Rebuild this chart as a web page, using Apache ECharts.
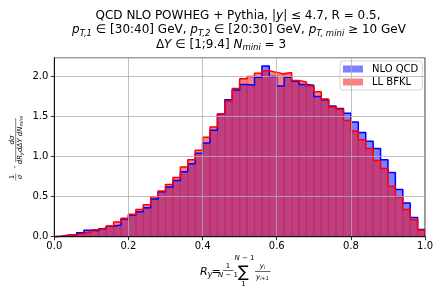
<!DOCTYPE html>
<html>
<head>
<meta charset="utf-8">
<script src="https://cdn.jsdelivr.net/npm/echarts@6/dist/echarts.min.js"></script>
<style>
html,body{margin:0;padding:0;background:#fff;}
#chart{width:436px;height:291px;}
</style>
</head>
<body>
<div id="chart"></div>
<script>
// Bin edges (R_y)
var binEdges = [0.00,0.02,0.04,0.06,0.08,0.10,0.12,0.14,0.16,0.18,
  0.20,0.22,0.24,0.26,0.28,0.30,0.32,0.34,0.36,0.38,
  0.40,0.42,0.44,0.46,0.48,0.50,0.52,0.54,0.56,0.58,
  0.60,0.62,0.64,0.66,0.68,0.70,0.72,0.74,0.76,0.78,
  0.80,0.82,0.84,0.86,0.88,0.90,0.92,0.94,0.96,0.98,1.00];
// NLO QCD (blue)
var nloQCD = [0.005,0.02,0.025,0.05,0.08,0.075,0.10,0.13,0.145,0.22,
  0.27,0.31,0.36,0.47,0.56,0.62,0.70,0.81,0.91,1.04,
  1.17,1.33,1.53,1.71,1.83,1.90,1.89,1.99,2.13,2.00,
  1.88,1.99,1.94,1.90,1.89,1.75,1.71,1.63,1.60,1.54,
  1.43,1.30,1.19,1.10,0.96,0.80,0.59,0.42,0.24,0.09];
// LL BFKL (red)
var llBFKL = [0.005,0.015,0.025,0.04,0.062,0.087,0.108,0.133,0.185,0.23,
  0.28,0.34,0.40,0.50,0.57,0.65,0.74,0.87,0.96,1.08,
  1.24,1.37,1.53,1.69,1.85,1.97,2.00,2.04,2.07,2.05,
  2.03,2.05,1.95,1.93,1.88,1.81,1.72,1.62,1.59,1.45,
  1.32,1.21,1.10,0.95,0.85,0.63,0.50,0.34,0.21,0.08];
var xTicks = [0.0,0.2,0.4,0.6,0.8,1.0];
var yTicks = [0.0,0.5,1.0,1.5,2.0];
var seriesNames = ['NLO QCD','LL BFKL'];

var FONT = 'DejaVu Sans';

function barData(vals){
  var d = [];
  for (var i = 0; i < vals.length; i++) d.push([binEdges[i], binEdges[i+1], vals[i]]);
  return d;
}
function stepData(vals){
  var d = [[binEdges[0], 0]];
  for (var i = 0; i < vals.length; i++) d.push([binEdges[i], vals[i]]);
  d.push([binEdges[vals.length], vals[vals.length-1]]);
  d.push([binEdges[vals.length], 0]);
  return d;
}
function renderBar(fill){
  return function(params, api){
    var p0 = api.coord([api.value(0), api.value(2)]);
    var p1 = api.coord([api.value(1), 0]);
    return {type:'rect', shape:{x:p0[0], y:p0[1], width:p1[0]-p0[0], height:p1[1]-p0[1]},
      style:{fill:fill, stroke:fill, lineWidth:0.3}};
  };
}

var chart = echarts.init(document.getElementById('chart'), null, {renderer:'canvas'});

var subStyle = {fontFamily:FONT, fontSize:8.5, fontStyle:'italic', verticalAlign:'bottom', lineHeight:16, padding:[4,0,0,0]};
var titleRich = {
  n:{fontFamily:FONT, fontSize:12, lineHeight:16, fill:'#000', color:'#000'},
  it:{fontFamily:FONT, fontSize:12, fontStyle:'italic', lineHeight:16, color:'#000'},
  sub:{fontFamily:FONT, fontSize:8.5, fontStyle:'italic', lineHeight:16, verticalAlign:'bottom', padding:[5,0,0,0], color:'#000'},
  subn:{fontFamily:FONT, fontSize:8.5, lineHeight:16, verticalAlign:'bottom', padding:[5,0,0,0], color:'#000'}
};

function txt(x, y, text, size, opts){
  opts = opts || {};
  return {type:'text', x:x, y:y, silent:true,
    style:{text:text, fill:'#000', font:(opts.italic?'italic ':'') + size + 'px "' + FONT + '"',
      align:opts.align||'center', verticalAlign:opts.va||'middle', rich:opts.rich}};
}
function hline(x1, x2, y, w){
  return {type:'line', silent:true, shape:{x1:x1, y1:y, x2:x2, y2:y}, style:{stroke:'#000', lineWidth:w||0.7}};
}

var mathRich = {
  n:{fontFamily:FONT, fontSize:7, color:'#000'},
  it:{fontFamily:FONT, fontSize:7, fontStyle:'italic', color:'#000'},
  s:{fontFamily:FONT, fontSize:5, fontStyle:'italic', color:'#000', verticalAlign:'bottom', padding:[3,0,0,0]}
};
var xRich = {
  it:{fontFamily:FONT, fontSize:11, fontStyle:'italic', color:'#000'},
  s:{fontFamily:FONT, fontSize:8, fontStyle:'italic', color:'#000', verticalAlign:'bottom', padding:[5,0,0,0]}
};

var option = {
  animation:false,
  backgroundColor:'#fff',
  textStyle:{fontFamily:FONT},
  grid:{left:54.3, right:8.3, top:57.7, bottom:54.3, show:true, borderColor:'#000', borderWidth:0.9, backgroundColor:'transparent'},
  xAxis:{type:'value', min:xTicks[0], max:xTicks[xTicks.length-1], interval:0.2, z:5,
    axisLine:{show:true, onZero:false, lineStyle:{color:'#000', width:0.9}},
    axisTick:{show:true, length:3.5, lineStyle:{color:'#000', width:0.8}},
    axisLabel:{color:'#000', fontSize:10, fontFamily:FONT, margin:5, formatter:function(v){return v.toFixed(1);}},
    splitLine:{show:true, lineStyle:{color:'#b0b0b0', width:0.8}}},
  yAxis:{type:'value', min:yTicks[0], max:2.234, interval:0.5, z:5,
    axisLine:{show:true, lineStyle:{color:'#000', width:0.9}},
    axisTick:{show:true, length:3.5, lineStyle:{color:'#000', width:0.8}},
    axisLabel:{color:'#000', fontSize:10, fontFamily:FONT, margin:6, showMaxLabel:false, formatter:function(v){return v.toFixed(1);}},
    splitLine:{show:true, lineStyle:{color:'#b0b0b0', width:0.8}}},
  legend:{
    orient:'vertical', left:340, top:61, padding:[3,4,3,3], itemGap:3,
    itemWidth:20, itemHeight:7, backgroundColor:'rgba(255,255,255,0.8)',
    borderColor:'#cccccc', borderWidth:0.8, borderRadius:3,
    textStyle:{fontFamily:FONT, fontSize:10, color:'#000', padding:[0,0,0,4]},
    data:[{name:seriesNames[0], icon:'rect', itemStyle:{color:'rgba(0,0,255,0.5)'}},
          {name:seriesNames[1], icon:'rect', itemStyle:{color:'rgba(255,0,0,0.5)'}}]
  },
  series:[
    {name:seriesNames[0], type:'custom', z:2, data:barData(nloQCD), encode:{x:[0,1], y:2},
      itemStyle:{color:'rgba(0,0,255,0.5)'}, renderItem:renderBar('rgba(0,0,255,0.5)')},
    {name:seriesNames[1], type:'custom', z:2, data:barData(llBFKL), encode:{x:[0,1], y:2},
      itemStyle:{color:'rgba(255,0,0,0.5)'}, renderItem:renderBar('rgba(255,0,0,0.5)')},
    {name:'nloStep', type:'line', z:3, step:'end', showSymbol:false, data:stepData(nloQCD),
      lineStyle:{color:'#0000ff', width:1.5}, itemStyle:{color:'#0000ff'}},
    {name:'llStep', type:'line', z:3, step:'end', showSymbol:false, data:stepData(llBFKL),
      lineStyle:{color:'#ff0000', width:1.5}, itemStyle:{color:'#ff0000'}}
  ],
  graphic:[
    // Title
    {type:'text', x:238, y:15.5, silent:true, style:{text:'QCD NLO POWHEG + Pythia, |{it|y}| ≤ 4.7, R = 0.5,', rich:titleRich, font:'12px "DejaVu Sans"', fill:'#000', align:'center', verticalAlign:'middle'}},
    {type:'text', x:239, y:30, silent:true, style:{text:'{it|p}{sub|T,1} ∈ [30:40] GeV, {it|p}{sub|T,2} ∈ [20:30] GeV, {it|p}{sub|T, mini} ≥ 10 GeV', rich:titleRich, font:'12px "DejaVu Sans"', fill:'#000', align:'center', verticalAlign:'middle'}},
    {type:'text', x:221, y:44.5, silent:true, style:{text:'Δ{it|Y} ∈ [1;9.4] {it|N}{sub|mini} = 3', rich:titleRich, font:'12px "DejaVu Sans"', fill:'#000', align:'center', verticalAlign:'middle'}},
    // x label
    txt(200, 272, '{it|R}{s|y}', 11, {align:'left', rich:xRich}),
    txt(216, 272, '=', 11),
    txt(228, 266.5, '1', 7),
    hline(223, 233.5, 270.5, 0.6),
    txt(228, 275.5, '{it|N} − 1', 7, {rich:mathRich}),
    txt(243.5, 272.5, '∑', 16),
    txt(244.5, 258.5, '{it|N} − 1', 7, {rich:mathRich}),
    txt(243.5, 284.5, '1', 7),
    txt(262.5, 266.5, '{it|y}{s|i}', 8, {rich:mathRich}),
    hline(255, 270.5, 271.5, 0.6),
    txt(262.5, 277.5, '{it|y}{s|i+1}', 8, {rich:mathRich}),
    // y label (rotated)
    {type:'group', x:15.7, y:150, rotation:Math.PI/2, silent:true, children:[
      txt(-27, -3.8, '1', 6.5),
      hline(-30.5, -23.5, 0, 0.5),
      txt(-27, 4.3, 'σ', 6.5, {italic:true}),
      txt(-17, 0, '·', 8),
      txt(10, -3.8, '{it|dσ}', 6.5, {rich:mathRich}),
      hline(-12, 32, 0, 0.5),
      txt(10, 4.5, '{it|dR}{s|y}{it|dΔY dN}{s|mini}', 6.5, {rich:mathRich})
    ]}
  ]
};
chart.setOption(option);
</script>
</body>
</html>
